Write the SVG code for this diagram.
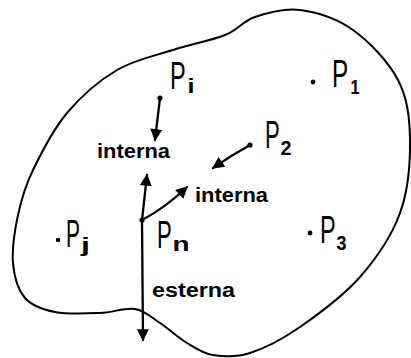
<svg xmlns="http://www.w3.org/2000/svg" width="411" height="358" viewBox="0 0 411 358">
<style>
.outline{fill:none;stroke:#000;stroke-width:2;stroke-linecap:round;stroke-linejoin:round}
.arr{fill:none;stroke:#000;stroke-width:2.3;stroke-linecap:round}
.dot{fill:#000}
.big{font-family:"Liberation Sans","DejaVu Sans",sans-serif;font-size:38px;fill:#000}
.sub{font-family:"Liberation Sans","DejaVu Sans",sans-serif;font-size:20px;font-weight:bold;fill:#000}
.lbl{font-family:"Liberation Sans","DejaVu Sans",sans-serif;font-size:20px;font-weight:bold;fill:#000}
</style>
<defs>
<marker id="ah" viewBox="0 0 10 10" refX="9" refY="5" markerWidth="5.6" markerHeight="5.2" markerUnits="strokeWidth" orient="auto">
<path d="M0,0 L10,5 L0,10 Z" fill="#000"/>
</marker>
</defs>
<g id="body">
<path class="outline" d="M33,170 C41.2,153 53,129.7 67,113 C81,96.3 99.3,80.5 117,70 C134.7,59.5 155,55.8 173,50 C191,44.2 211.3,40.5 225,35 C238.7,29.5 242.5,21.2 255,17 C267.5,12.8 283.7,7.8 300,10 C316.3,12.2 336.7,18.3 353,30 C369.3,41.7 388.5,61.7 398,80 C407.5,98.3 409.7,117.8 410,140 C410.3,162.2 408.3,190.2 400,213 C391.7,235.8 376.7,258 360,277 C343.3,296 318.3,314.3 300,327 C281.7,339.7 264.5,348.3 250,353 C235.5,357.7 223.5,356.7 213,355 C202.5,353.3 195.8,348.3 187,343 C178.2,337.7 168.7,328.7 160,323 C151.3,317.3 145,310.7 135,309 C125,307.3 113.3,312.5 100,313 C86.7,313.5 67.5,314.5 55,312 C42.5,309.5 32,306.2 25,298 C18,289.8 14.2,276.8 13,263 C11.8,249.2 14.7,230.5 18,215 C21.3,199.5 24.8,187 33,170 Z"/>
</g>
<g id="Pi">
<circle class="dot" cx="160" cy="98" r="2.6"/>
<text class="big" transform="translate(170,89) scale(0.62,1)">P</text>
<text class="sub" x="187.5" y="93" textLength="7" lengthAdjust="spacingAndGlyphs">i</text>
</g>
<g id="P1">
<circle class="dot" cx="313" cy="82" r="2.4"/>
<text class="big" transform="translate(332,87) scale(0.64,1)">P</text>
<text class="sub" x="350.5" y="94" textLength="9" lengthAdjust="spacingAndGlyphs">1</text>
</g>
<g id="P2">
<circle class="dot" cx="250" cy="145" r="2.6"/>
<text class="big" transform="translate(265,148) scale(0.58,1)">P</text>
<text class="sub" x="280.5" y="155" textLength="11" lengthAdjust="spacingAndGlyphs">2</text>
</g>
<g id="Pj">
<circle class="dot" cx="58" cy="240" r="2.2"/>
<text class="big" transform="translate(66,247) scale(0.55,1)">P</text>
<text class="sub" x="81" y="252" textLength="9" lengthAdjust="spacingAndGlyphs">j</text>
</g>
<g id="Pn">
<circle class="dot" cx="142" cy="220" r="2.6"/>
<text class="big" transform="translate(157,248) scale(0.58,1)">P</text>
<text class="sub" x="172.5" y="251" textLength="17" lengthAdjust="spacingAndGlyphs">n</text>
</g>
<g id="P3">
<circle class="dot" cx="310" cy="233" r="2.4"/>
<text class="big" transform="translate(320,243) scale(0.62,1)">P</text>
<text class="sub" x="336.5" y="250" textLength="10" lengthAdjust="spacingAndGlyphs">3</text>
</g>
<g id="labels">
<text class="lbl" x="97" y="158" textLength="73" lengthAdjust="spacingAndGlyphs">interna</text>
<text class="lbl" x="195" y="202" textLength="73" lengthAdjust="spacingAndGlyphs">interna</text>
<text class="lbl" x="152" y="297" textLength="83" lengthAdjust="spacingAndGlyphs">esterna</text>
</g>
<g id="connectors">
<path class="arr" marker-end="url(#ah)" d="M160,98 L155,140"/>
<path class="arr" marker-end="url(#ah)" d="M250,145 Q232,155 213,168"/>
<path class="arr" marker-end="url(#ah)" d="M142,220 Q165,208 187,187"/>
<path class="arr" marker-end="url(#ah)" d="M142,220 L147,175"/>
<path class="arr" marker-end="url(#ah)" d="M142,220 L143,340"/>
</g>
</svg>
